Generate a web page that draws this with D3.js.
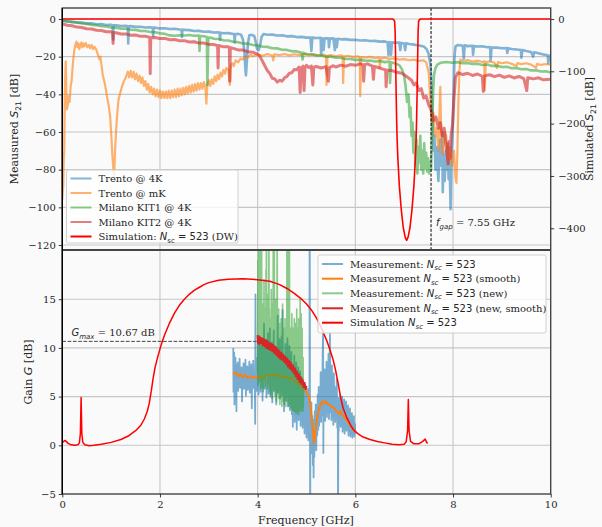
<!DOCTYPE html>
<html><head><meta charset="utf-8">
<script src="https://cdn.jsdelivr.net/npm/d3@7"></script>
<style>
html,body{margin:0;padding:0;background:#fafafa;}
svg{display:block;}
text{font-family:"DejaVu Serif",serif;fill:#262626;}
</style></head><body>
<svg id="chart" width="602" height="527"></svg>
<script>
// ---------- data: frequency [GHz], value ----------
// Upper panel, measured S21 [dB]
const trento4K = [[0.00,-0.8],[0.10,-1.3],[0.20,-1.4],[0.30,-1.9],[0.40,-1.9],[0.50,-2.4],[0.60,-2.3],[0.70,-2.8],[0.80,-2.7],[0.90,-3.2],[1.00,-3.1],[1.03,-3.3],[1.04,-11],[1.05,-3.4],[1.10,-3.3],[1.20,-3.7],[1.30,-3.6],[1.34,-3.9],[1.35,-13],[1.36,-3.9],[1.40,-3.8],[1.50,-4.2],[1.60,-4.1],[1.70,-4.5],[1.80,-4.4],[1.85,-4.7],[1.86,-9],[1.87,-4.6],[1.90,-4.6],[2.00,-5.0],[2.10,-4.9],[2.20,-5.3],[2.30,-5.2],[2.40,-5.6],[2.44,-5.7],[2.45,-9.5],[2.46,-5.6],[2.50,-5.8],[2.60,-5.9],[2.70,-6.4],[2.80,-6.3],[2.90,-6.8],[3.00,-6.7],[3.10,-7.2],[3.20,-7.1],[3.22,-7.3],[3.23,-11],[3.24,-7.3],[3.30,-7.6],[3.40,-7.5],[3.50,-8.0],[3.52,-8.0],[3.53,-12.5],[3.54,-8.1],[3.60,-7.9],[3.66,-8.4],[3.70,-11],[3.73,-18],[3.75,-27],[3.76,-30],[3.78,-22],[3.80,-13],[3.83,-8.6],[3.88,-8.4],[3.93,-9],[3.96,-12],[3.99,-16],[4.02,-16.5],[4.05,-14],[4.08,-9.5],[4.12,-8.0],[4.20,-8.4],[4.30,-8.3],[4.40,-8.8],[4.50,-8.7],[4.60,-9.2],[4.70,-9.1],[4.80,-9.6],[4.90,-9.5],[5.00,-9.9],[5.08,-9.8],[5.10,-17],[5.12,-9.9],[5.20,-10.1],[5.29,-10.0],[5.30,-19],[5.32,-10.2],[5.35,-16.5],[5.37,-10.3],[5.45,-10.2],[5.46,-15],[5.48,-10.4],[5.55,-10.3],[5.58,-16.5],[5.60,-10.6],[5.62,-15],[5.64,-10.5],[5.70,-10.8],[5.80,-10.7],[5.90,-11.1],[6.00,-11.0],[6.10,-11.4],[6.20,-11.3],[6.30,-11.7],[6.40,-11.6],[6.50,-12.0],[6.60,-11.9],[6.66,-12.3],[6.68,-19],[6.70,-12.2],[6.73,-19],[6.75,-12.4],[6.80,-12.6],[6.90,-12.5],[6.92,-16.5],[6.94,-12.7],[7.00,-13.0],[7.02,-16.5],[7.04,-12.9],[7.10,-13.3],[7.20,-13.6],[7.30,-14.1],[7.40,-14.6],[7.46,-16],[7.50,-18.5],[7.54,-25],[7.56,-35],[7.58,-55],[7.60,-70],[7.62,-62],[7.64,-80],[7.66,-68],[7.68,-75],[7.70,-86],[7.72,-70],[7.74,-64],[7.76,-78],[7.78,-60],[7.79,-92],[7.81,-72],[7.83,-86],[7.85,-70],[7.87,-80],[7.89,-66],[7.91,-85],[7.93,-75],[7.95,-101],[7.97,-72],[7.99,-62],[8.01,-42],[8.03,-20],[8.05,-14.5],[8.10,-13.8],[8.20,-14.2],[8.22,-21],[8.24,-14.0],[8.30,-14.4],[8.40,-14.2],[8.41,-19],[8.43,-14.4],[8.50,-14.6],[8.60,-14.5],[8.70,-15.0],[8.76,-14.9],[8.77,-22],[8.79,-15.1],[8.90,-15.2],[9.00,-15.5],[9.10,-15.4],[9.11,-18],[9.13,-15.6],[9.20,-15.9],[9.30,-16.2],[9.39,-16.5],[9.40,-20.5],[9.42,-16.5],[9.50,-17.0],[9.60,-17.5],[9.64,-20],[9.66,-17.7],[9.75,-18.2],[9.85,-18.8],[9.94,-19.3],[9.95,-23.5],[9.97,-19.5],[10.0,-19.6]];

const trentoMK = [[0.000,-96],[0.010,-91],[0.020,-88],[0.030,-74],[0.040,-70],[0.050,-45],[0.060,-30],[0.070,-22.5],[0.080,-34],[0.090,-48],[0.110,-46],[0.130,-41],[0.150,-44],[0.170,-36],[0.190,-33],[0.210,-26],[0.230,-20],[0.250,-16],[0.270,-13.5],[0.290,-12],[0.310,-15],[0.330,-13],[0.350,-16],[0.370,-13.5],[0.390,-12.5],[0.410,-15],[0.430,-13],[0.450,-14.5],[0.480,-12.8],[0.510,-15],[0.540,-13.8],[0.570,-15.5],[0.600,-13.8],[0.630,-16],[0.660,-14.8],[0.700,-16.5],[0.730,-19],[0.760,-21.5],[0.780,-20],[0.800,-24],[0.830,-30],[0.860,-33],[0.890,-37],[0.920,-42],[0.950,-46],[0.980,-52],[1.000,-60],[1.020,-70],[1.040,-78],[1.060,-84],[1.080,-70],[1.100,-60],[1.120,-52],[1.150,-43],[1.180,-40],[1.220,-36],[1.260,-33],[1.300,-31],[1.340,-28],[1.370,-31],[1.400,-27.5],[1.430,-31],[1.460,-28],[1.490,-32],[1.520,-29],[1.550,-33],[1.580,-30],[1.610,-34],[1.640,-31],[1.670,-35.5],[1.700,-33],[1.730,-37.5],[1.760,-34.5],[1.790,-39],[1.820,-36],[1.850,-40],[1.880,-37],[1.910,-41],[1.940,-37.5],[1.970,-41.5],[2.000,-38],[2.030,-42],[2.060,-38.5],[2.090,-42],[2.120,-38.5],[2.150,-42],[2.180,-38],[2.210,-42],[2.240,-38],[2.270,-41.5],[2.300,-37.5],[2.330,-41.5],[2.360,-37],[2.390,-41],[2.420,-37],[2.450,-40.5],[2.480,-36.5],[2.510,-40],[2.540,-36],[2.570,-39.5],[2.600,-35.5],[2.630,-39],[2.660,-35],[2.690,-38.5],[2.720,-34.5],[2.750,-38],[2.780,-34],[2.810,-37.5],[2.840,-34],[2.870,-37],[2.900,-33.5],[2.930,-36.5],[2.950,-45],[2.970,-35],[3.000,-32.5],[3.030,-35.5],[3.060,-32],[3.090,-34.5],[3.120,-30.5],[3.150,-33],[3.180,-29.5],[3.210,-32],[3.240,-28.5],[3.270,-30.5],[3.300,-27],[3.330,-29],[3.360,-26],[3.400,-27],[3.430,-35],[3.450,-25],[3.480,-23.5],[3.510,-25],[3.550,-22],[3.600,-23],[3.650,-21],[3.700,-21.5],[3.750,-19.8],[3.800,-20.5],[3.850,-19],[3.900,-19.8],[4.000,-18.8],[4.100,-19.5],[4.200,-18.6],[4.300,-19.4],[4.320,-22],[4.340,-18.8],[4.450,-19.2],[4.550,-18.6],[4.650,-19.3],[4.750,-18.7],[4.850,-19.2],[4.950,-18.6],[5.050,-19.3],[5.150,-18.8],[5.250,-19.4],[5.350,-18.9],[5.400,-19.5],[5.410,-35],[5.430,-19.6],[5.500,-19.2],[5.600,-19.8],[5.700,-19.3],[5.740,-19.6],[5.750,-34],[5.770,-19.8],[5.850,-19.5],[5.950,-20.1],[6.050,-19.8],[6.090,-20.3],[6.100,-41],[6.120,-20.2],[6.200,-20.5],[6.300,-20.1],[6.400,-20.8],[6.490,-20.5],[6.500,-26],[6.520,-20.9],[6.600,-20.6],[6.700,-21.2],[6.800,-20.9],[6.900,-21.6],[7.000,-21.3],[7.100,-21.9],[7.200,-21.6],[7.300,-22.2],[7.400,-22],[7.450,-23],[7.500,-28],[7.530,-40],[7.560,-55],[7.600,-50],[7.630,-62],[7.660,-58],[7.700,-70],[7.720,-52],[7.740,-36],[7.760,-64],[7.790,-72],[7.830,-60],[7.860,-62],[7.900,-75],[7.940,-68],[7.980,-78],[8.020,-70],[8.050,-84],[8.070,-87],[8.090,-70],[8.110,-45],[8.130,-28],[8.150,-21.5],[8.200,-22.3],[8.300,-21.8],[8.400,-22.6],[8.500,-22.1],[8.600,-22.8],[8.640,-22.4],[8.650,-38],[8.670,-22.9],[8.750,-22.5],[8.850,-23.2],[8.900,-26],[8.920,-22.9],[9.000,-23.5],[9.100,-23.0],[9.200,-23.8],[9.300,-25],[9.320,-23.4],[9.400,-24.0],[9.500,-23.5],[9.600,-24.2],[9.700,-26],[9.720,-23.8],[9.800,-24.4],[9.900,-23.9],[10.00,-24.3]];

const milanoKit1 = [[0.00,-0.8],[0.10,-1.2],[0.20,-1.7],[0.30,-1.9],[0.40,-2.4],[0.50,-2.6],[0.60,-3.1],[0.70,-3.3],[0.80,-3.8],[0.90,-4.0],[1.00,-4.5],[1.10,-4.6],[1.20,-5.1],[1.30,-5.2],[1.40,-5.7],[1.50,-5.8],[1.60,-6.3],[1.70,-6.4],[1.80,-6.9],[1.90,-7.0],[2.00,-7.6],[2.10,-7.9],[2.20,-8.7],[2.30,-8.9],[2.40,-8.6],[2.50,-8.8],[2.60,-8.5],[2.70,-8.9],[2.80,-8.8],[2.81,-17],[2.82,-9.0],[2.90,-9.2],[2.96,-9.6],[2.97,-35],[2.99,-9.8],[3.05,-10.0],[3.10,-10.5],[3.20,-10.6],[3.30,-11.3],[3.40,-11.4],[3.50,-12.1],[3.60,-12.3],[3.70,-13.0],[3.80,-13.1],[3.90,-13.8],[4.00,-14.0],[4.10,-14.7],[4.20,-14.8],[4.30,-15.5],[4.40,-15.6],[4.50,-16.3],[4.60,-16.4],[4.70,-17.1],[4.80,-17.2],[4.90,-17.9],[4.92,-21.5],[4.94,-18.0],[5.00,-18.6],[5.10,-18.7],[5.20,-19.4],[5.30,-19.4],[5.40,-20.0],[5.50,-20.0],[5.60,-20.6],[5.70,-20.6],[5.80,-21.2],[5.90,-21.2],[6.00,-21.7],[6.10,-21.6],[6.20,-22.2],[6.30,-22.0],[6.40,-22.6],[6.50,-22.3],[6.60,-22.9],[6.70,-22.6],[6.71,-34],[6.73,-23.0],[6.80,-23.5],[6.90,-24.5],[6.95,-26.5],[7.00,-30],[7.03,-36],[7.06,-44],[7.09,-40],[7.11,-52],[7.13,-47],[7.15,-62],[7.17,-55],[7.19,-71],[7.21,-60],[7.23,-78],[7.25,-64],[7.27,-82],[7.29,-68],[7.31,-76],[7.33,-62],[7.35,-80],[7.37,-70],[7.39,-82],[7.41,-66],[7.43,-79],[7.45,-71],[7.47,-81],[7.49,-74],[7.51,-82],[7.53,-76],[7.55,-80],[7.57,-62],[7.59,-40],[7.61,-30],[7.64,-26],[7.68,-24.2],[7.75,-23.2],[7.85,-22.8],[8.00,-23.2],[8.10,-22.9],[8.20,-23.5],[8.30,-23.3],[8.40,-23.9],[8.50,-23.7],[8.60,-24.4],[8.70,-24.2],[8.80,-24.9],[8.90,-24.8],[9.00,-25.5],[9.10,-25.4],[9.20,-26.1],[9.30,-26.0],[9.40,-26.7],[9.50,-26.6],[9.60,-27.3],[9.70,-27.2],[9.80,-27.9],[9.90,-27.8],[10.0,-28.4]];

const milanoKit2 = [[0.00,-2.5],[0.10,-3.3],[0.20,-3.6],[0.30,-4.3],[0.40,-4.5],[0.50,-5.2],[0.60,-5.3],[0.70,-6.0],[0.80,-6.1],[0.90,-6.8],[1.00,-6.8],[1.03,-7.2],[1.04,-13],[1.05,-7.3],[1.10,-7.3],[1.20,-8.0],[1.30,-7.9],[1.40,-8.6],[1.50,-8.5],[1.60,-9.2],[1.70,-9.1],[1.79,-9.8],[1.80,-29],[1.81,-9.9],[1.90,-9.8],[2.00,-10.4],[2.10,-10.3],[2.20,-11.0],[2.30,-10.9],[2.40,-11.6],[2.50,-11.5],[2.60,-12.2],[2.70,-12.1],[2.80,-12.8],[2.90,-12.8],[3.00,-13.5],[3.10,-13.5],[3.18,-14.2],[3.19,-26],[3.20,-14.1],[3.30,-14.8],[3.40,-14.8],[3.42,-15.4],[3.43,-33],[3.44,-15.3],[3.50,-15.6],[3.60,-16.4],[3.70,-16.5],[3.80,-17.4],[3.90,-17.6],[4.00,-18.7],[4.05,-20],[4.10,-22.5],[4.15,-25],[4.20,-27.5],[4.25,-29],[4.30,-31.5],[4.35,-31.8],[4.40,-33.5],[4.45,-32.5],[4.50,-33],[4.55,-31.2],[4.60,-30.5],[4.65,-28.8],[4.70,-28.5],[4.75,-26.8],[4.80,-27],[4.85,-25.5],[4.87,-39],[4.89,-26.3],[4.93,-25],[4.95,-38],[4.97,-25.8],[5.00,-24.6],[5.05,-25.8],[5.10,-25.0],[5.13,-35],[5.15,-25.6],[5.20,-25.2],[5.30,-26.0],[5.40,-25.3],[5.45,-33],[5.47,-25.8],[5.55,-24.8],[5.60,-25.5],[5.70,-24.5],[5.80,-25.1],[5.90,-24.2],[6.00,-24.6],[6.10,-23.8],[6.16,-24.4],[6.17,-33],[6.19,-24.3],[6.25,-23.8],[6.35,-25.0],[6.37,-32],[6.39,-25.2],[6.45,-25.6],[6.55,-26.5],[6.62,-27],[6.63,-36],[6.65,-27.2],[6.75,-27.4],[6.85,-28.3],[6.95,-28.8],[7.05,-30.5],[7.15,-32.5],[7.20,-35],[7.25,-34],[7.30,-38],[7.35,-37],[7.40,-42],[7.45,-41],[7.50,-45.5],[7.55,-48],[7.60,-54],[7.65,-52],[7.70,-58],[7.74,-55],[7.78,-62],[7.82,-58],[7.85,-66],[7.88,-72],[7.90,-77],[7.92,-65],[7.94,-74],[7.96,-62],[7.99,-56],[8.02,-42],[8.05,-31],[8.10,-28.5],[8.20,-29.5],[8.30,-28.8],[8.40,-30],[8.50,-29.2],[8.60,-30.4],[8.62,-38.5],[8.64,-30.2],[8.75,-29.6],[8.85,-30.6],[8.95,-29.8],[9.05,-31],[9.15,-30.2],[9.25,-31.3],[9.35,-30.5],[9.45,-31.6],[9.51,-38],[9.53,-31.2],[9.65,-31.8],[9.75,-31.2],[9.85,-32.3],[10.0,-32.0]];

// Upper panel, simulated S21 [dB] (right axis)
const simS21 = [[0,0],[6.76,0],[6.79,-1.5],[6.805,-5],[6.815,-25],[6.825,-80],[6.835,-140],[6.845,-190],[6.855,-228],[6.87,-265],[6.90,-318],[6.94,-364],[6.98,-398],[7.02,-417],[7.05,-423],[7.08,-417],[7.12,-398],[7.16,-364],[7.20,-318],[7.23,-265],[7.245,-228],[7.255,-190],[7.265,-140],[7.275,-80],[7.285,-25],[7.295,-5],[7.31,-1.5],[7.34,0],[10,0]];

// Lower panel, gain [dB]
const gainMeas = [[3.50,10.0],[3.505,5.5],[3.51,8.8],[3.515,6.0],[3.52,9.5],[3.525,4.2],[3.53,8.0],[3.54,6.5],[3.545,9.0],[3.55,5.8],[3.56,7.8],[3.565,3.5],[3.57,8.2],[3.58,6.4],[3.59,8.5],[3.60,5.6],[3.61,7.6],[3.62,6.8],[3.63,8.9],[3.64,5.9],[3.65,7.4],[3.66,6.1],[3.67,8.0],[3.68,4.5],[3.69,7.7],[3.70,6.3],[3.71,8.4],[3.72,5.8],[3.73,7.2],[3.74,6.6],[3.75,8.8],[3.76,5.1],[3.77,7.5],[3.78,6.4],[3.79,8.1],[3.80,5.7],[3.81,7.3],[3.82,6.9],[3.83,8.6],[3.84,5.4],[3.85,7.6],[3.86,6.2],[3.87,8.3],[3.88,3.8],[3.89,7.8],[3.90,6.0],[3.91,8.7],[3.92,5.9],[3.93,7.1],[3.94,6.5],[3.95,2.2],[3.955,15.5],[3.96,6.9],[3.97,8.4],[3.98,5.6],[3.99,9.0],[4.00,6.4],[4.01,10.5],[4.02,5.2],[4.03,9.2],[4.04,6.8],[4.05,11.0],[4.06,5.5],[4.07,8.9],[4.08,6.0],[4.09,10.2],[4.10,4.6],[4.11,8.5],[4.12,7.0],[4.13,12.5],[4.14,5.8],[4.15,9.6],[4.16,6.4],[4.17,10.8],[4.18,4.9],[4.19,8.8],[4.20,6.6],[4.21,11.5],[4.22,5.3],[4.23,9.1],[4.24,7.2],[4.25,12.0],[4.26,5.0],[4.27,9.4],[4.28,6.1],[4.29,10.6],[4.30,4.4],[4.31,8.6],[4.32,6.9],[4.33,11.8],[4.34,5.6],[4.35,9.8],[4.36,6.3],[4.37,10.1],[4.38,4.2],[4.39,8.7],[4.40,6.7],[4.41,13.3],[4.42,5.4],[4.43,9.5],[4.44,6.0],[4.45,10.9],[4.46,4.8],[4.47,8.2],[4.48,6.5],[4.49,11.2],[4.50,5.1],[4.51,13.9],[4.52,5.9],[4.53,9.0],[4.54,3.5],[4.55,8.4],[4.56,6.2],[4.57,10.4],[4.58,4.6],[4.59,8.9],[4.60,5.7],[4.61,11.0],[4.62,4.0],[4.63,8.1],[4.64,6.4],[4.65,10.2],[4.66,3.6],[4.67,7.9],[4.68,5.5],[4.69,9.6],[4.70,3.2],[4.71,7.4],[4.72,1.9],[4.73,8.0],[4.74,4.7],[4.75,9.2],[4.76,2.4],[4.77,7.1],[4.78,4.1],[4.79,8.5],[4.80,1.6],[4.81,6.8],[4.82,3.9],[4.83,8.0],[4.84,2.6],[4.85,6.2],[4.86,3.4],[4.87,7.6],[4.88,2.0],[4.89,5.8],[4.90,3.1],[4.91,6.9],[4.92,1.8],[4.93,5.5],[4.94,2.8],[4.95,6.4],[4.96,1.2],[4.97,5.0],[4.98,2.5],[4.99,6.0],[5.00,0.8],[5.01,4.6],[5.02,2.2],[5.03,5.8],[5.04,0.5],[5.05,4.0],[5.06,1.5],[5.065,30],[5.075,-12],[5.08,3.2],[5.09,0.2],[5.10,4.4],[5.11,-0.8],[5.12,3.0],[5.13,-2.0],[5.14,2.6],[5.145,-3.3],[5.15,1.8],[5.16,-1.2],[5.17,3.5],[5.18,0.4],[5.19,4.2],[5.20,-0.5],[5.21,3.8],[5.22,1.0],[5.23,5.2],[5.24,1.6],[5.25,6.0],[5.26,2.0],[5.27,5.5],[5.28,2.8],[5.29,7.5],[5.30,2.4],[5.31,6.2],[5.32,3.1],[5.33,9.0],[5.34,11.8],[5.345,-0.8],[5.35,5.0],[5.36,3.3],[5.37,7.8],[5.38,2.5],[5.39,6.4],[5.40,3.8],[5.41,8.6],[5.42,2.9],[5.43,6.9],[5.44,3.6],[5.45,9.4],[5.46,2.7],[5.47,7.0],[5.48,11.5],[5.49,3.4],[5.50,6.6],[5.51,2.6],[5.52,8.2],[5.53,3.9],[5.54,6.3],[5.55,2.1],[5.56,7.4],[5.57,3.0],[5.58,6.0],[5.59,2.4],[5.60,5.6],[5.61,3.2],[5.62,6.8],[5.63,1.8],[5.64,4.9],[5.645,-8],[5.655,4.0],[5.66,1.5],[5.67,4.8],[5.68,2.2],[5.69,5.2],[5.70,1.9],[5.71,4.4],[5.72,2.6],[5.73,5.0],[5.74,1.4],[5.75,4.2],[5.76,2.3],[5.77,4.7],[5.78,1.2],[5.79,3.9],[5.80,2.0],[5.81,4.5],[5.82,1.5],[5.83,3.6],[5.84,2.4],[5.85,4.1],[5.86,1.0],[5.87,3.4],[5.88,1.8],[5.89,3.8],[5.90,0.9],[5.91,3.0],[5.92,1.6],[5.93,3.3],[5.94,0.8],[5.95,2.7],[5.96,1.3],[5.97,3.0],[5.98,0.9],[5.99,2.2],[6.00,1.2]];

const gainMeasSmooth = [[3.50,7.3],[3.55,7.5],[3.60,7.1],[3.65,7.3],[3.70,7.0],[3.75,7.2],[3.80,6.9],[3.85,7.1],[3.90,7.0],[3.95,6.9],[4.00,7.1],[4.05,7.0],[4.10,6.8],[4.15,7.1],[4.20,7.2],[4.25,7.1],[4.30,7.3],[4.35,7.1],[4.40,7.2],[4.45,7.0],[4.50,7.1],[4.55,7.0],[4.60,7.0],[4.65,6.8],[4.70,6.9],[4.75,6.6],[4.80,6.5],[4.85,6.3],[4.90,6.1],[4.95,5.8],[5.00,5.5],[5.05,5.0],[5.08,4.0],[5.10,3.2],[5.12,2.0],[5.14,0.8],[5.15,0.2],[5.17,0.9],[5.19,1.8],[5.21,2.6],[5.24,3.4],[5.27,3.9],[5.30,4.3],[5.33,4.5],[5.36,4.3],[5.39,4.5],[5.42,4.3],[5.45,4.2],[5.48,4.1],[5.51,4.0],[5.55,3.9],[5.60,3.6],[5.64,3.4],[5.67,3.2],[5.70,3.5],[5.72,3.2],[5.76,3.0],[5.80,2.7],[5.85,2.4],[5.90,2.0],[5.95,1.7],[6.00,1.4]];

const gainMeasNew = [[4.000,7.5],[4.005,19],[4.010,6.2],[4.015,14],[4.020,25],[4.025,8.5],[4.030,13],[4.035,6.5],[4.040,16],[4.045,9],[4.050,22],[4.055,7],[4.060,12.5],[4.065,5.8],[4.070,15],[4.075,8],[4.080,25],[4.085,10],[4.090,13.5],[4.095,6],[4.100,11],[4.105,7.5],[4.110,14.5],[4.115,5.5],[4.120,12],[4.125,8.5],[4.130,17],[4.135,6.8],[4.140,11.5],[4.145,9],[4.150,14],[4.155,6],[4.160,12],[4.165,7.2],[4.170,18],[4.175,8],[4.180,25],[4.185,9.5],[4.190,13],[4.195,5.8],[4.200,11],[4.205,7],[4.210,15.5],[4.215,6.2],[4.220,12.5],[4.225,8.8],[4.230,25],[4.235,7.5],[4.240,14],[4.245,5.5],[4.250,10.5],[4.255,7.8],[4.260,13],[4.265,5.2],[4.270,11.5],[4.275,8],[4.280,16],[4.285,6.5],[4.290,12],[4.295,4.8],[4.300,10],[4.305,7.2],[4.310,14.5],[4.315,6],[4.320,25],[4.325,8.8],[4.330,13],[4.335,5.5],[4.340,25],[4.345,7.5],[4.350,12],[4.355,5],[4.360,10.5],[4.365,7.8],[4.370,15],[4.375,6],[4.380,11],[4.385,4.5],[4.390,13.5],[4.395,8],[4.400,25],[4.405,6.5],[4.410,12],[4.415,5.2],[4.420,10],[4.425,7],[4.430,14],[4.435,4.8],[4.440,11.5],[4.445,6.8],[4.450,9.5],[4.455,4.2],[4.460,12.5],[4.465,7],[4.470,10],[4.475,5],[4.480,13],[4.485,6.2],[4.490,9],[4.495,4],[4.500,11],[4.505,6.8],[4.510,14.5],[4.515,5.5],[4.520,10],[4.525,4.5],[4.530,12],[4.535,7.2],[4.540,9.5],[4.545,4.2],[4.550,11],[4.555,6.5],[4.560,13],[4.565,5],[4.570,10],[4.575,4],[4.580,12],[4.585,6.5],[4.590,9],[4.595,4.5],[4.600,25],[4.605,7],[4.610,11.5],[4.615,5],[4.620,25],[4.625,6.5],[4.630,10.5],[4.635,4],[4.640,13],[4.645,5.8],[4.650,22],[4.655,6.2],[4.660,9.5],[4.665,4.2],[4.670,12],[4.675,5.5],[4.680,9],[4.685,3.8],[4.690,11],[4.695,5.2],[4.700,13.5],[4.705,4.5],[4.710,9.5],[4.715,3.6],[4.720,12],[4.725,5.8],[4.730,8.5],[4.735,3.5],[4.740,11],[4.745,5],[4.750,13],[4.755,4],[4.760,9],[4.765,3.5],[4.770,12.5],[4.775,5.5],[4.780,8],[4.785,3.3],[4.790,11.5],[4.795,4.8],[4.800,14],[4.805,4],[4.810,9],[4.815,3.4],[4.820,12],[4.825,5],[4.830,8.5],[4.835,3.2],[4.840,13],[4.845,4.5],[4.850,10],[4.855,3.6],[4.860,12],[4.865,4.2],[4.870,15],[4.875,5],[4.880,9],[4.885,3.5],[4.890,13.5],[4.895,4.8],[4.900,10],[4.905,3.8],[4.910,12],[4.915,4.2],[4.920,8],[4.925,3.5],[4.930,9],[4.935,4],[4.940,6]];

const gainMeasNewSmooth = [[4.00,11.3],[4.01,10.5],[4.02,11.2],[4.03,10.4],[4.04,11.1],[4.06,10.5],[4.08,11.0],[4.10,10.3],[4.12,10.9],[4.14,10.2],[4.16,10.8],[4.18,10.0],[4.20,10.7],[4.22,9.9],[4.24,10.5],[4.26,9.8],[4.28,10.4],[4.30,9.7],[4.32,10.3],[4.34,9.5],[4.36,10.1],[4.38,9.3],[4.40,9.9],[4.42,9.1],[4.44,9.7],[4.46,8.9],[4.48,9.5],[4.50,8.8],[4.52,9.3],[4.54,8.6],[4.56,9.1],[4.58,8.4],[4.60,8.9],[4.62,8.1],[4.64,8.7],[4.66,7.9],[4.68,8.5],[4.70,7.7],[4.72,8.2],[4.74,7.4],[4.76,7.9],[4.78,7.1],[4.80,7.6],[4.82,6.8],[4.84,7.3],[4.86,6.5],[4.88,7.0],[4.90,6.3],[4.92,6.7],[4.94,6.0],[4.96,6.4],[4.98,5.8],[5.00,6.1]];

const gainSim = [[0,0.3],[0.02,0.35],[0.05,0.5],[0.08,0.4],[0.12,0.2],[0.18,0.05],[0.25,0],[0.32,0.05],[0.35,0.25],[0.37,1.2],[0.385,4.9],[0.40,1.2],[0.42,0.3],[0.46,0.05],[0.55,-0.05],[0.65,0],[0.8,0.1],[1.0,0.3],[1.2,0.6],[1.35,0.95],[1.5,1.5],[1.6,2.0],[1.68,2.7],[1.74,3.5],[1.78,4.3],[1.82,5.5],[1.86,6.9],[1.9,8.0],[1.95,9.0],[2.0,9.9],[2.05,10.7],[2.1,11.4],[2.2,12.6],[2.3,13.6],[2.4,14.4],[2.5,15.0],[2.6,15.5],[2.7,15.9],[2.8,16.2],[2.9,16.5],[3.0,16.7],[3.2,16.95],[3.4,17.05],[3.7,17.1],[4.0,17.0],[4.25,16.85],[4.45,16.5],[4.6,16.1],[4.75,15.6],[4.9,15.0],[5.0,14.5],[5.1,13.9],[5.2,13.1],[5.28,12.3],[5.35,11.5],[5.41,10.8],[5.48,9.8],[5.55,8.7],[5.6,7.6],[5.65,6.3],[5.7,4.9],[5.75,3.8],[5.82,2.9],[5.9,2.1],[5.96,1.6],[6.05,1.2],[6.16,0.85],[6.3,0.6],[6.45,0.4],[6.6,0.25],[6.75,0.1],[6.9,0.05],[7.0,0.1],[7.04,0.35],[7.07,1.5],[7.085,4.7],[7.10,1.5],[7.13,0.4],[7.2,0.15],[7.3,0.15],[7.38,0.4],[7.43,0.65],[7.46,0.3],[7.48,0.2]];

// Reference values
const fGap = 7.55;
const gMax = 10.67;
const gMaxEnd = 3.98;

// Ticks
const xTicks = [0, 2, 4, 6, 8, 10];
const topLeftTicks = [0, -20, -40, -60, -80, -100, -120];
const topRightTicks = [0, -100, -200, -300, -400];
const bottomTicks = [-5, 0, 5, 10, 15];

// Legend labels: plain text, math N_sc parts
const topLegendLabels = [
  [{t:"Trento @ 4K"}],
  [{t:"Trento @ mK"}],
  [{t:"Milano KIT1 @ 4K"}],
  [{t:"Milano KIT2 @ 4K"}],
  [{t:"Simulation: "},{t:"N",m:1,i:1},{t:"sc",m:1,sub:1},{t:" = 523",m:1},{t:" (DW)"}]
];
const bottomLegendLabels = [
  [{t:"Measurement: "},{t:"N",m:1,i:1},{t:"sc",m:1,i:1,sub:1},{t:" = 523",m:1}],
  [{t:"Measurement "},{t:"N",m:1,i:1},{t:"sc",m:1,i:1,sub:1},{t:" = 523",m:1},{t:" (smooth)"}],
  [{t:"Measurement: "},{t:"N",m:1,i:1},{t:"sc",m:1,i:1,sub:1},{t:" = 523",m:1},{t:" (new)"}],
  [{t:"Measurement "},{t:"N",m:1,i:1},{t:"sc",m:1,i:1,sub:1},{t:" = 523",m:1},{t:" (new, smooth)"}],
  [{t:"Simulation "},{t:"N",m:1,i:1},{t:"sc",m:1,i:1,sub:1},{t:" = 523",m:1}]
];

// ---------- layout ----------
const W = 602, H = 527;
const X0 = 62.3, X1 = 550.7;
const TOP0 = 8, MID = 250, BOT1 = 494;

const x = d3.scaleLinear().domain([0, 10]).range([X0, X1]);
const yTop = d3.scaleLinear().domain([-122.65, 5.84]).range([MID, TOP0]);
const yTopR = d3.scaleLinear().domain([-441.5, 21]).range([MID, TOP0]);
const yBot = d3.scaleLinear().domain([-5, 20]).range([BOT1, MID + 0.5]);

const C = {blue:"#1f77b4", orange:"#ff7f0e", green:"#2ca02c", red:"#d62728", sim:"#ff0000"};

const svg = d3.select("#chart");
svg.append("rect").attr("width", W).attr("height", H).attr("fill", "#fafafa");

const defs = svg.append("defs");
defs.append("clipPath").attr("id", "clipTop").append("rect")
  .attr("x", X0).attr("y", TOP0).attr("width", X1 - X0).attr("height", MID - TOP0);
defs.append("clipPath").attr("id", "clipBot").append("rect")
  .attr("x", X0).attr("y", MID).attr("width", X1 - X0).attr("height", BOT1 - MID);

// grids
const grid = svg.append("g").attr("stroke", "#c6c6c6").attr("stroke-width", 1.1);
xTicks.slice(1, -1).forEach(v => {
  grid.append("line").attr("x1", x(v)).attr("x2", x(v)).attr("y1", TOP0).attr("y2", MID);
  grid.append("line").attr("x1", x(v)).attr("x2", x(v)).attr("y1", MID).attr("y2", BOT1);
});
topLeftTicks.forEach(v => grid.append("line").attr("x1", X0).attr("x2", X1).attr("y1", yTop(v)).attr("y2", yTop(v)));
bottomTicks.slice(1).forEach(v => grid.append("line").attr("x1", X0).attr("x2", X1).attr("y1", yBot(v)).attr("y2", yBot(v)));

function trace(g, data, ys, color, width, opacity) {
  g.append("path").datum(data)
    .attr("d", d3.line().x(d => x(d[0])).y(d => ys(d[1])))
    .attr("fill", "none").attr("stroke", color)
    .attr("stroke-width", width).attr("stroke-opacity", opacity)
    .attr("stroke-linejoin", "round");
}

// upper panel traces
const gTop = svg.append("g").attr("clip-path", "url(#clipTop)");
trace(gTop, trento4K, yTop, C.blue, 2.6, 0.55);
trace(gTop, trentoMK, yTop, C.orange, 2.2, 0.6);
trace(gTop, milanoKit1, yTop, C.green, 2.6, 0.55);
trace(gTop, milanoKit2, yTop, C.red, 3.0, 0.6);
gTop.append("line").attr("x1", x(fGap)).attr("x2", x(fGap)).attr("y1", TOP0).attr("y2", MID)
  .attr("stroke", "#000").attr("stroke-width", 1).attr("stroke-dasharray", "3,1.6");
trace(gTop, simS21, yTopR, C.sim, 1.6, 1);

// lower panel traces
const gBot = svg.append("g").attr("clip-path", "url(#clipBot)");
gBot.append("line").attr("x1", x(0)).attr("x2", x(gMaxEnd)).attr("y1", yBot(gMax)).attr("y2", yBot(gMax))
  .attr("stroke", "#444").attr("stroke-width", 1).attr("stroke-dasharray", "3.7,1.6");
trace(gBot, gainMeas, yBot, C.blue, 1.8, 0.6);
trace(gBot, gainMeasSmooth, yBot, C.orange, 2.0, 1);
trace(gBot, gainMeasNew, yBot, C.green, 1.6, 0.55);
trace(gBot, gainMeasNewSmooth, yBot, C.red, 2.2, 1);
trace(gBot, gainSim, yBot, C.sim, 1.5, 1);

// math-aware text builder
function richText(sel, parts, size) {
  parts.forEach((p, k) => {
    const ts = sel.append("tspan").text(p.t);
    if (p.m) ts.attr("font-family", "DejaVu Sans");
    if (p.i) ts.attr("font-style", "italic");
    if (p.sub) ts.attr("font-size", size * 0.7).attr("dy", size * 0.25);
    const prev = parts[k - 1];
    if (prev && prev.sub && !p.sub) ts.attr("dy", -size * 0.25);
  });
}

// annotations
richText(svg.append("text").attr("x", x(fGap) + 5).attr("y", 226).attr("font-size", 10),
  [{t:"f",i:1,m:1},{t:"gap",i:1,m:1,sub:1},{t:" = 7.55 GHz"}], 10);
richText(svg.append("text").attr("x", 71.5).attr("y", 336).attr("font-size", 10),
  [{t:"G",i:1,m:1},{t:"max",i:1,m:1,sub:1},{t:" = 10.67 dB"}], 10);

// spines
const sp = svg.append("g").attr("fill", "none");
sp.append("rect").attr("x", X0).attr("y", TOP0).attr("width", X1 - X0).attr("height", BOT1 - TOP0)
  .attr("stroke", "#444").attr("stroke-width", 1.4);
sp.append("line").attr("x1", X0).attr("x2", X1).attr("y1", MID).attr("y2", MID).attr("stroke", "#444").attr("stroke-width", 1.8);
sp.append("line").attr("x1", X0).attr("x2", X0).attr("y1", TOP0).attr("y2", BOT1).attr("stroke", "#000").attr("stroke-width", 1.4);

// axes
function styleAxis(g) {
  g.attr("font-family", "DejaVu Serif").attr("font-size", 10).attr("color", "#262626");
  g.select(".domain").remove();
  g.selectAll(".tick line").attr("stroke-width", 0.9);
}
svg.append("g").attr("transform", `translate(${X0},0)`)
  .call(d3.axisLeft(yTop).tickValues(topLeftTicks).tickSize(3.5).tickPadding(3)).call(styleAxis);
svg.append("g").attr("transform", `translate(${X1},0)`)
  .call(d3.axisRight(yTopR).tickValues(topRightTicks).tickSize(3.5).tickPadding(4)).call(styleAxis);
svg.append("g").attr("transform", `translate(${X0},0)`)
  .call(d3.axisLeft(yBot).tickValues(bottomTicks).tickSize(3.5).tickPadding(3)).call(styleAxis);
svg.append("g").attr("transform", `translate(0,${BOT1})`)
  .call(d3.axisBottom(x).tickValues(xTicks).tickSize(3.5).tickPadding(3)).call(styleAxis);

// axis titles
svg.append("text").attr("x", 306).attr("y", 524).attr("text-anchor", "middle").attr("font-size", 11).text("Frequency [GHz]");
richText(svg.append("text").attr("transform", "translate(18,129) rotate(-90)").attr("text-anchor", "middle").attr("font-size", 11),
  [{t:"Meausured "},{t:"S",i:1,m:1},{t:"21",m:1,sub:1},{t:" [dB]"}], 11);
richText(svg.append("text").attr("transform", "translate(32,372) rotate(-90)").attr("text-anchor", "middle").attr("font-size", 11),
  [{t:"Gain "},{t:"G",i:1,m:1},{t:" [dB]"}], 11);
richText(svg.append("text").attr("transform", "translate(593,129) rotate(-90)").attr("text-anchor", "middle").attr("font-size", 11),
  [{t:"Simulated "},{t:"S",i:1,m:1},{t:"21",m:1,sub:1},{t:" [dB]"}], 11);

// legends
function legend(x0, y0, w, h, rowY, items, labels) {
  const g = svg.append("g");
  g.append("rect").attr("x", x0).attr("y", y0).attr("width", w).attr("height", h).attr("rx", 2)
    .attr("fill", "#ffffff").attr("fill-opacity", 0.8).attr("stroke", "#d0d0d0").attr("stroke-width", 1);
  items.forEach((it, k) => {
    const yy = y0 + rowY[k];
    g.append("line").attr("x1", x0 + 4).attr("x2", x0 + 25).attr("y1", yy).attr("y2", yy)
      .attr("stroke", it.c).attr("stroke-opacity", it.o).attr("stroke-width", it.w);
    richText(g.append("text").attr("x", x0 + 32).attr("y", yy + 3.5).attr("font-size", 10), labels[k], 10);
  });
}
const rows = [8.5, 23, 37.5, 52, 66.5];
legend(66.5, 170, 171.5, 73, rows, [
  {c:C.blue, o:0.55, w:2}, {c:C.orange, o:0.6, w:2}, {c:C.green, o:0.55, w:2}, {c:C.red, o:0.6, w:2}, {c:C.sim, o:1, w:2}
], topLegendLabels);
legend(318, 255, 228, 78, [9, 23.7, 38.3, 53.3, 67.7], [
  {c:C.blue, o:0.6, w:2}, {c:C.orange, o:1, w:2}, {c:C.green, o:0.55, w:2}, {c:C.red, o:1, w:2}, {c:C.sim, o:1, w:2}
], bottomLegendLabels);
</script></body></html>
